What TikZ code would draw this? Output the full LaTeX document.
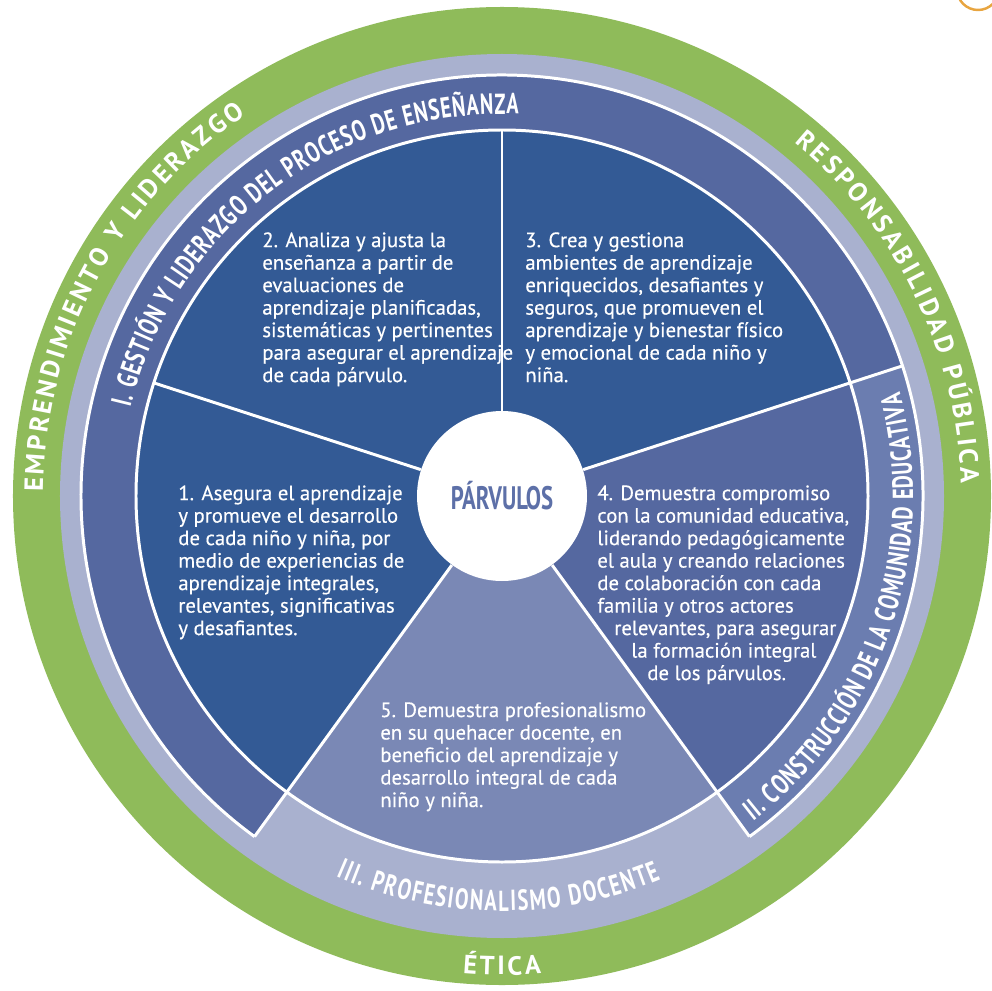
\documentclass[tikz,border=0pt]{standalone}
\usepackage{fontspec}
\setmainfont{PT Sans}
\newfontfamily\bodyfont[FakeBold=0.35]{PT Sans}
\newfontfamily\bandfont[FakeStretch=0.7]{PT Sans}
\usetikzlibrary{decorations.text}

\definecolor{ringgreen}{RGB}{143,187,90}
\definecolor{ringlav}{RGB}{169,177,207}
\definecolor{bandblue}{RGB}{85,104,160}
\definecolor{bandtwo}{RGB}{107,125,176}
\definecolor{darkblue}{RGB}{51,90,149}
\definecolor{midblue}{RGB}{85,104,160}
\definecolor{lightblue}{RGB}{122,136,181}
\definecolor{parvtext}{RGB}{93,112,168}
\definecolor{orangeline}{RGB}{232,165,64}

\newcommand\bandtext{\bandfont\bfseries\fontsize{16.5}{16.5}\selectfont}
\newcommand\ringtext{\bfseries\fontsize{15}{15}\selectfont}

\tikzset{
  sector text/.style={text=white,align=left,anchor=north west,inner sep=0pt,
    font=\bodyfont\fontsize{11.8}{12.8}\selectfont},
  white line/.style={white,line width=1.7pt},
  arc label/.style={decorate,
    decoration={text along path,text align=fit to path,text color=white,text={#1}}},
}

\begin{document}
\begin{tikzpicture}
  \useasboundingbox (-10.04,-9.88) rectangle (9.80,9.92);
  % outer rings
  \fill [ringgreen] (0,0) circle [radius=9.78];
  \fill [ringlav] (0,0) circle [radius=8.84];
  % bands
  \fill [bandblue]
    (0,0)
    -- (18:8.42)
    arc [start angle=18, end angle=234, radius=8.42]
    -- cycle
  ;
  \fill [bandtwo]
    (0,0)
    -- (-54:8.42)
    arc [start angle=-54, end angle=18, radius=8.42]
    -- cycle
  ;
  % standards
  \foreach \a/\c in {162/darkblue,90/darkblue,18/darkblue,-54/midblue,234/lightblue}
    \fill [\c] (0,0) -- (\a:7.32) arc [start angle=\a, end angle=\a+72, radius=7.32] -- cycle;
  % white rings
  \draw [white line] (0,0) circle [radius=7.32];
  \draw [white line]
    (-54:8.42)
    arc [start angle=-54, end angle=234, radius=8.42]
  ;
  % centre
  \node [circle,fill=white,minimum size=3.4cm,inner sep=0pt,text=parvtext,
    font=\bandfont\bfseries\fontsize{18.5}{18.5}\selectfont]
    (parvulos) at (0,0) {PÁRVULOS}
  ;
  % dividers
  \foreach \a/\r in {90/7.32,162/7.32,18/8.42,234/8.42,306/8.42}
    \draw [white line] (parvulos.\a) -- (\a:\r);
  % standard texts
  \node [sector text] (std1) at (-6.48,0.22)
    {1. Asegura el aprendizaje\\
     y promueve el desarrollo\\
     de cada niño y niña, por\\
     medio de experiencias de\\
     aprendizaje integrales,\\
     relevantes, significativas\\
     y desafiantes.};
  \node [sector text] (std2) at (-4.80,5.28)
    {2. Analiza y ajusta la\\
     enseñanza a partir de\\
     evaluaciones de\\
     aprendizaje planificadas,\\
     sistemáticas y pertinentes\\
     para asegurar el aprendizaje\\
     de cada párvulo.};
  \node [sector text] (std3) at (0.46,5.28)
    {3. Crea y gestiona\\
     ambientes de aprendizaje\\
     enriquecidos, desafiantes y\\
     seguros, que promueven el\\
     aprendizaje y bienestar físico\\
     y emocional de cada niño y\\
     niña.};
  \node [sector text] (std4) at (1.90,0.22)
    {4. Demuestra compromiso\\
     con la comunidad educativa,\\
     liderando pedagógicamente\\
     el aula y creando relaciones\\
     de colaboración con cada\\
     familia y otros actores\\
     \hspace*{0.34cm}relevantes, para asegurar\\
     \hspace*{0.68cm}la formación integral\\
     \hspace*{1.0cm}de los párvulos.};
  \node [sector text] (std5) at (-2.44,-4.12)
    {5. Demuestra profesionalismo\\
     en su quehacer docente, en\\
     beneficio del aprendizaje y\\
     desarrollo integral de cada\\
     niño y niña.};
  % band labels
  \path [arc label={|\bandtext|I. GESTIÓN Y LIDERAZGO DEL PROCESO DE ENSEÑANZA}]
    (166.6:7.64) arc [start angle=166.6, end angle=87.6, radius=7.64];
  \path [arc label={|\bandtext|II. CONSTRUCCIÓN DE LA COMUNIDAD EDUCATIVA}]
    (-52.3:8.22) arc [start angle=-52.3, end angle=14.6, radius=8.22];
  \path [arc label={|\bandtext|III. PROFESIONALISMO DOCENTE}]
    (246.4:8.3) arc [start angle=246.4, end angle=292.5, radius=8.3];
  % ring labels
  \path [arc label={|\ringtext|EMPRENDIMIENTO Y LIDERAZGO}]
    (179.5:9.18) arc [start angle=179.5, end angle=124, radius=9.18];
  \path [arc label={|\ringtext|RESPONSABILIDAD PÚBLICA}]
    (50.4:9.18) arc [start angle=50.4, end angle=1.6, radius=9.18];
  \path [arc label={|\ringtext|ÉTICA}]
    (265.3:9.58) arc [start angle=265.3, end angle=274.7, radius=9.58];
  % corner
  \draw [orangeline,line width=1.4pt] (9.52,10.14) circle [radius=0.42];
\end{tikzpicture}
\end{document}
